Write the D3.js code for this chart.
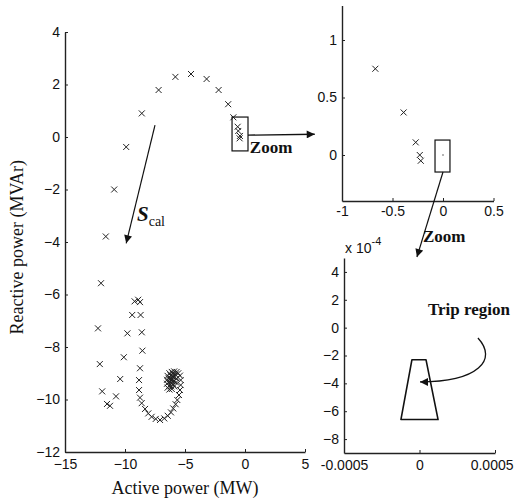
<!DOCTYPE html>
<html><head><meta charset="utf-8">
<script src="https://cdn.jsdelivr.net/npm/d3@7"></script>
<style>
body{margin:0;background:#fff;}
svg{display:block;}
.tick text{font-family:"Liberation Sans",Arial,sans-serif;font-size:14px;fill:#111;}
.ttl{font-family:"Liberation Serif","Times New Roman",serif;font-size:18px;fill:#111;}
.ann{font-family:"Liberation Serif","Times New Roman",serif;font-weight:bold;font-size:17px;fill:#111;}
</style></head>
<body>
<script>
// ---- Data ----
// Main panel: active power P (MW) and reactive power Q (MVAr)
const mainP = [-0.45,-0.42,-0.56,-0.61,-0.97,-1.4,-2.2,-3.2,-4.5,-5.8,-7.2,-8.6,-9.9,-10.9,-11.6,
  -12.0,-12.25,-12.1,-11.9,-11.5,-11.25,-10.75,-10.4,-10.1,-9.8,-9.4,-9.2,-8.9,-8.75,-8.7,-8.6,-8.55,
  -8.75,-8.83,-8.83,-8.75,-8.61,-8.33,-8.06,-7.78,-7.44,-7.08,-6.73,-6.44,-6.17,-5.98,-5.78,-5.64,-5.5,
  -5.42,-5.36,-5.36,-5.42,-5.56,
  -5.7,-5.9,-6.1,-6.3,-6.45,-6.5,-6.5,-6.45,-6.3,-6.1,-5.9,-5.75,-5.7,-5.8,-6.0,-6.2,-6.35,-6.38,-6.3,
  -6.15,-6.0,-5.9,-5.92,-6.05,-6.2,-6.25,-6.15,-6.05,-6.1,-6.15];
const mainQ = [-0.05,0.04,0.23,0.39,0.75,1.25,1.79,2.21,2.40,2.29,1.79,0.90,-0.38,-2.0,-3.79,
  -5.57,-7.29,-8.65,-9.69,-10.17,-10.24,-9.88,-9.22,-8.39,-7.48,-6.78,-6.26,-6.20,-6.29,-6.78,-7.44,-8.14,
  -8.81,-9.26,-9.64,-9.93,-10.14,-10.36,-10.53,-10.66,-10.74,-10.78,-10.72,-10.62,-10.49,-10.34,-10.18,-10.02,-9.83,
  -9.64,-9.45,-9.26,-9.09,-9.00,
  -8.95,-8.93,-8.95,-9.0,-9.1,-9.25,-9.4,-9.55,-9.62,-9.6,-9.5,-9.35,-9.2,-9.05,-9.02,-9.08,-9.2,-9.35,-9.48,
  -9.5,-9.42,-9.3,-9.15,-9.12,-9.2,-9.32,-9.38,-9.3,-9.22,-9.27];
// Upper zoom panel
const zoomP = [-0.67,-0.39,-0.27,-0.23,-0.22];
const zoomQ = [0.75,0.37,0.11,0.0,-0.05];
// Trip region (lower zoom panel), P in MW, Q in units of 1e-4 MVAr
const tripP = [-0.00005,0.000043,0.000123,-0.000123];
const tripQ = [-2.3,-2.3,-6.6,-6.6];
// Tick labels
const mainXTicks = [-15,-10,-5,0,5];
const mainYTicks = [-12,-10,-8,-6,-4,-2,0,2,4];
const zoomXTicks = [-1,-0.5,0,0.5];
const zoomYTicks = [0,0.5,1];
const tripXTicks = [-0.0005,0,0.0005];
const tripXLabels = ["-0.0005","0","0.0005"];
const tripYTicks = [-8,-6,-4,-2,0,2,4];

// ---- Scales ----
const W=514,H=501;
const svg=d3.select("body").append("svg").attr("width",W).attr("height",H);
const mx=d3.scaleLinear().domain([-15,5]).range([65,305]);
const my=d3.scaleLinear().domain([-12,4]).range([452,32]);
const zx=d3.scaleLinear().domain([-1,0.5]).range([342,493.5]);
const zy=d3.scaleLinear().domain([-0.4,1.3]).range([201,5.5]);
const tx=d3.scaleLinear().domain([-0.0005,0.0005]).range([344,495]);
const ty=d3.scaleLinear().domain([-9,5]).range([453,258]);

const defs=svg.append("defs");
defs.append("marker").attr("id","ah").attr("viewBox","0 0 10 10").attr("refX",10).attr("refY",5)
  .attr("markerWidth",10).attr("markerHeight",8).attr("markerUnits","userSpaceOnUse").attr("orient","auto")
  .append("path").attr("d","M0,0L10,5L0,10Z").attr("fill","#111");

function axes(xs,ys,xt,yt,xfmt,yfmt,xpad){
  const gx=svg.append("g").attr("transform",`translate(0,${ys.range()[0]})`)
    .call(d3.axisBottom(xs).tickValues(xt).tickSizeInner(-3).tickSizeOuter(0).tickPadding(xpad).tickFormat(xfmt));
  const gy=svg.append("g").attr("transform",`translate(${xs.range()[0]},0)`)
    .call(d3.axisLeft(ys).tickValues(yt).tickSizeInner(-3).tickSizeOuter(0).tickPadding(5).tickFormat(yfmt));
  [gx,gy].forEach(g=>{g.select(".domain").attr("stroke","#222").attr("stroke-width",1.4);
    g.selectAll(".tick line").attr("stroke","#222");});
  return gx;
}
axes(mx,my,mainXTicks,mainYTicks,d3.format("d"),d3.format("d"),7);
axes(zx,zy,zoomXTicks,zoomYTicks,d=>d===0?"0":String(d),d=>d===0?"0":String(d),5);
const tgx=axes(tx,ty,tripXTicks,tripYTicks,(d,i)=>tripXLabels[i],d3.format("d"),7);
// keep the right-most label inside the picture
tgx.selectAll(".tick text").filter((d,i)=>i===2).attr("text-anchor","end").attr("dx",18);

const xm="M-3,-3L3,3M-3,3L3,-3";
svg.append("g").selectAll("path").data(mainP).join("path")
  .attr("d",xm).attr("transform",(d,i)=>`translate(${mx(d)},${my(mainQ[i])})`)
  .attr("stroke","#222").attr("stroke-width",1).attr("fill","none");
svg.append("g").selectAll("path").data(zoomP).join("path")
  .attr("d",xm).attr("transform",(d,i)=>`translate(${zx(d)},${zy(zoomQ[i])})`)
  .attr("stroke","#222").attr("stroke-width",1).attr("fill","none");

// trip region polygon
svg.append("path").attr("d",d3.line().curve(d3.curveLinearClosed)(tripP.map((p,i)=>[tx(p),ty(tripQ[i])])))
  .attr("fill","none").attr("stroke","#111").attr("stroke-width",1.6).attr("stroke-linejoin","round");

// Axis titles
svg.append("text").attr("class","ttl").attr("x",mx(-5)).attr("y",494).attr("text-anchor","middle").text("Active power (MW)");
svg.append("text").attr("class","ttl").attr("transform",`translate(23,${my(-4.2)}) rotate(-90)`).attr("text-anchor","middle").text("Reactive power (MVAr)");

// Annotations
const ann=svg.append("g");
// zoom box in main panel
ann.append("rect").attr("x",mx(-1.08)).attr("y",my(0.76)).attr("width",mx(0.25)-mx(-1.08)).attr("height",my(-0.53)-my(0.76))
  .attr("fill","none").attr("stroke","#111").attr("stroke-width",1.2);
ann.append("line").attr("x1",mx(0.25)).attr("y1",my(0.07)).attr("x2",zx(-1.27)).attr("y2",zy(0.18))
  .attr("stroke","#111").attr("stroke-width",1.4).attr("marker-end","url(#ah)");
ann.append("text").attr("class","ann").attr("x",mx(0.4)).attr("y",my(-0.6)).text("Zoom");
// S_cal arrow
ann.append("line").attr("x1",mx(-7.5)).attr("y1",my(0.45)).attr("x2",mx(-9.9)).attr("y2",my(-4.05))
  .attr("stroke","#111").attr("stroke-width",1.2).attr("marker-end","url(#ah)");
const st=ann.append("text").attr("x",mx(-9.0)).attr("y",my(-3.2)).attr("font-family","Liberation Serif, serif").attr("fill","#111");
st.append("tspan").attr("font-size","21px").attr("font-weight","bold").attr("font-style","italic").text("S");
st.append("tspan").attr("font-size","14px").attr("dy",5).text("cal");
// zoom box in upper panel
ann.append("rect").attr("x",zx(-0.079)).attr("y",zy(0.13)).attr("width",zx(0.069)-zx(-0.079)).attr("height",zy(-0.148)-zy(0.13))
  .attr("fill","none").attr("stroke","#111").attr("stroke-width",1.2);
ann.append("circle").attr("cx",zx(0)).attr("cy",zy(0)).attr("r",0.7).attr("fill","#333");
ann.append("line").attr("x1",zx(0)).attr("y1",zy(-0.148)).attr("x2",tx(-0.000017)).attr("y2",ty(5.07))
  .attr("stroke","#111").attr("stroke-width",1.2).attr("marker-end","url(#ah)");
ann.append("text").attr("class","ann").attr("x",tx(0.000023)).attr("y",ty(6.15)).text("Zoom");
// x10^-4 multiplier
const mt=ann.append("text").attr("x",tx(-0.0005)+1).attr("y",ty(5.0)-5).attr("font-family","Liberation Sans, Arial, sans-serif").attr("fill","#111");
mt.append("tspan").attr("font-size","14px").text("x 10");
mt.append("tspan").attr("font-size","11px").attr("dy",-8).text("-4");
// Trip region label and curved arrow
ann.append("text").attr("class","ann").attr("x",tx(0.0000563)).attr("y",ty(0.9)).text("Trip region");
ann.append("path").attr("d",`M${tx(0.000387)},${ty(-0.74)} C${tx(0.00052)},${ty(-2.3)} ${tx(0.00039)},${ty(-3.9)} ${tx(0.0000033)},${ty(-3.9)}`)
  .attr("fill","none").attr("stroke","#111").attr("stroke-width",1.3).attr("marker-end","url(#ah)");
</script>
</body></html>
